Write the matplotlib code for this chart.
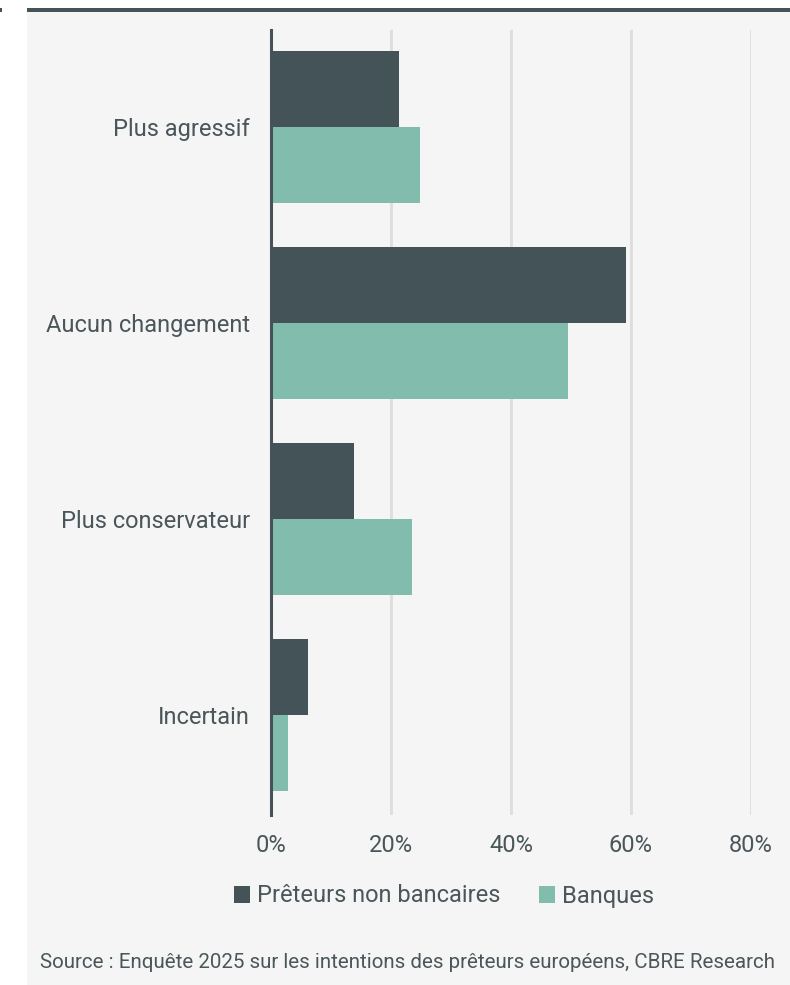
import matplotlib
matplotlib.use("Agg")
import matplotlib.pyplot as plt
from matplotlib.patches import Rectangle
import numpy as np

categories = ["Plus agressif", "Aucun changement", "Plus conservateur", "Incertain"]
non_bank = [21.3, 59.2, 13.8, 6.2]
banks = [24.8, 49.5, 23.5, 2.8]
series_names = ["Prêteurs non bancaires", "Banques"]
x_ticks = [0, 20, 40, 60, 80]
x_tick_labels = ["0%", "20%", "40%", "60%", "80%"]
source = "Source : Enquête 2025 sur les intentions des prêteurs européens, CBRE Research"

DARK = "#435357"
TEAL = "#82bcad"
TEXT = "#4a5659"
BG = "#f5f5f5"
GRID = "#dddddd"

plt.rcParams["font.family"] = ["Roboto", "DejaVu Sans"]

W, H = 790, 985
fig = plt.figure(figsize=(W / 100, H / 100), dpi=100)
fig.patch.set_facecolor("white")

# light panel and header rule
fig.patches.append(Rectangle((27 / W, 0), 1 - 27 / W, 1 - 12 / H,
                             transform=fig.transFigure, facecolor=BG,
                             edgecolor="none", zorder=0))
fig.patches.append(Rectangle((27 / W, 1 - 12 / H), 1 - 27 / W, 4 / H,
                             transform=fig.transFigure, facecolor=DARK,
                             edgecolor="none", zorder=1))
fig.patches.append(Rectangle((0, 1 - 12 / H), 2 / W, 4 / H,
                             transform=fig.transFigure, facecolor=DARK,
                             edgecolor="none", zorder=1))

x0, x1 = 271, 751
y0, y1 = 30, 815
ax = fig.add_axes([x0 / W, 1 - y1 / H, (x1 - x0) / W, (y1 - y0) / H])
ax.set_zorder(5)
ax.set_facecolor("none")

y = np.arange(len(categories))
h = 0.388
ax.barh(y - h / 2, non_bank, height=h, color=DARK, label=series_names[0], zorder=3)
ax.barh(y + h / 2, banks, height=h, color=TEAL, label=series_names[1], zorder=3)

ax.set_xlim(0, 80)
ax.set_ylim(3.51, -0.495)
ax.set_xticks(x_ticks)
ax.set_xticklabels(x_tick_labels)
ax.set_yticks(y)
ax.set_yticklabels(categories)
ax.tick_params(axis="both", length=0, labelsize=17, colors=TEXT)
ax.tick_params(axis="x", pad=14)
ax.tick_params(axis="y", pad=15)

for t in x_ticks[1:]:
    ax.axvline(t, color=GRID, lw=2, zorder=1)

for s in ["top", "right", "bottom"]:
    ax.spines[s].set_visible(False)
ax.spines["left"].set_color(DARK)
ax.spines["left"].set_linewidth(2.2)
ax.spines["left"].set_zorder(4)

handles, labels = ax.get_legend_handles_labels()
leg = fig.legend(handles, labels, loc="center", bbox_to_anchor=(444 / W, 1 - 896 / H),
                 ncol=2, frameon=False, fontsize=17, labelcolor=TEXT,
                 handlelength=0.7, handleheight=0.7, handletextpad=0.3,
                 columnspacing=1.6)
leg.set_zorder(6)

fig.text(40 / W, 1 - 963 / H, source, fontsize=14.8, color=TEXT,
         ha="left", va="center", zorder=6)

fig.savefig("out.png", dpi=100, facecolor=fig.get_facecolor())
